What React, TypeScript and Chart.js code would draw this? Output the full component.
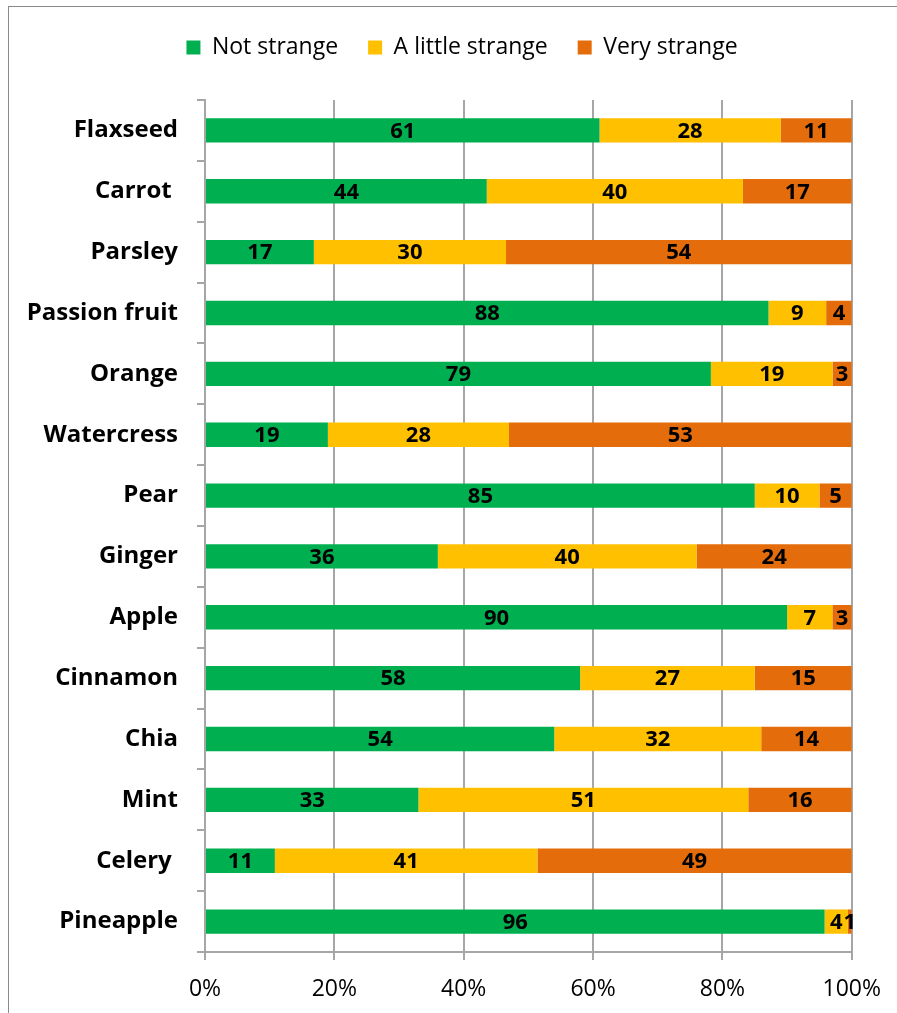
import React, { useEffect, useRef } from "react";
import { Chart, registerables } from "chart.js";

Chart.register(...registerables);

const categories = [
  "Flaxseed",
  "Carrot ",
  "Parsley",
  "Passion fruit",
  "Orange",
  "Watercress",
  "Pear",
  "Ginger",
  "Apple",
  "Cinnamon",
  "Chia",
  "Mint",
  "Celery ",
  "Pineapple",
];
const notStrange = [61, 44, 17, 88, 79, 19, 85, 36, 90, 58, 54, 33, 10.8, 95.8];
const littleStrange = [28, 40, 30, 9, 19, 28, 10, 40, 7, 27, 32, 51, 40.6, 3.6];
const veryStrange = [11, 17, 54, 4, 3, 53, 5, 24, 3, 15, 14, 16, 48.6, 0.6];
const seriesNames = ["Not strange", "A little strange", "Very strange"];
const seriesColors = ["#00B050", "#FFC000", "#E46C0A"];
const xTicks = [0, 20, 40, 60, 80, 100];

const FONT = "'Open Sans'";

export default function App() {
  const ref = useRef<HTMLCanvasElement | null>(null);

  useEffect(() => {
    const raw = [notStrange, littleStrange, veryStrange];
    const totals = categories.map((_, i) => raw.reduce((s, arr) => s + arr[i], 0));
    const pct = raw.map((arr) => arr.map((v, i) => (v / totals[i]) * 100));

    const labelPlugin = {
      id: "segLabels",
      afterDatasetsDraw(chart: any) {
        const ctx = chart.ctx;
        ctx.save();
        ctx.font = `bold 22px ${FONT}`;
        ctx.fillStyle = "#000";
        ctx.textAlign = "center";
        ctx.textBaseline = "middle";
        raw.forEach((arr, di) => {
          const meta = chart.getDatasetMeta(di);
          meta.data.forEach((bar: any, j: number) => {
            const p = bar.getProps(["x", "base", "y"], true);
            ctx.fillText(String(Math.round(arr[j])), (p.x + p.base) / 2, p.y + 1);
          });
        });
        ctx.restore();
      },
    };

    const legendSpace = {
      id: "legendSpace",
      beforeInit(chart: any) {
        const orig = chart.legend.fit;
        chart.legend.fit = function () {
          orig.bind(chart.legend)();
          this.height += 31;
        };
      },
      afterLayout(chart: any) {
        chart.legend.left += 36;
        chart.legend.right += 36;
      },
    };

    const chart = new Chart(ref.current as HTMLCanvasElement, {
      type: "bar",
      data: {
        labels: categories,
        datasets: pct.map((d, i) => ({
          label: seriesNames[i],
          data: d,
          backgroundColor: seriesColors[i],
          borderWidth: 0,
          barPercentage: 0.4,
          categoryPercentage: 1,
        })),
      },
      options: {
        indexAxis: "y",
        responsive: false,
        animation: false,
        layout: { padding: { top: 6, right: 45, bottom: 0, left: 0 } },
        plugins: {
          tooltip: { enabled: false },
          legend: {
            position: "top",
            labels: {
              boxWidth: 14,
              boxHeight: 14,
              padding: 30,
              color: "#000",
              font: { family: FONT, size: 23 },
            },
          },
        },
        scales: {
          x: {
            stacked: true,
            min: 0,
            max: 100,
            afterBuildTicks(scale: any) {
              scale.ticks = xTicks.map((v) => ({ value: v }));
            },
            afterFit(scale: any) {
              scale.height = 61;
            },
            ticks: {
              callback: (v: any) => v + "%",
              color: "#000",
              padding: 16,
              font: { family: FONT, size: 23 },
            },
            grid: {
              color: "#A6A6A6",
              lineWidth: 2,
              tickLength: 8,
            },
            border: { color: "#A6A6A6", width: 2 },
          },
          y: {
            stacked: true,
            afterFit(scale: any) {
              scale.width = 205;
            },
            ticks: {
              color: "#000",
              padding: 19,
              font: { family: FONT, size: 24, weight: "bold" },
            },
            grid: {
              drawOnChartArea: false,
              color: "#A6A6A6",
              lineWidth: 2,
              tickLength: 8,
              offset: true,
            },
            border: { color: "#A6A6A6", width: 2 },
          },
        },
      },
      plugins: [labelPlugin, legendSpace],
    } as any);
    return () => chart.destroy();
  }, []);

  return (
    <div
      style={{
        position: "fixed",
        left: 0,
        top: 0,
        width: 897,
        height: 1013,
        overflow: "hidden",
        background: "#fff",
      }}
    >
      <div
        style={{
          position: "absolute",
          left: 8,
          top: 6,
          width: 1000,
          height: 1100,
          borderLeft: "1px solid #8a8a8a",
          borderTop: "1px solid #8a8a8a",
        }}
      />
      <canvas
        ref={ref}
        width={897}
        height={1013}
        style={{ position: "absolute", left: 0, top: 0, width: 897, height: 1013 }}
      />
    </div>
  );
}
